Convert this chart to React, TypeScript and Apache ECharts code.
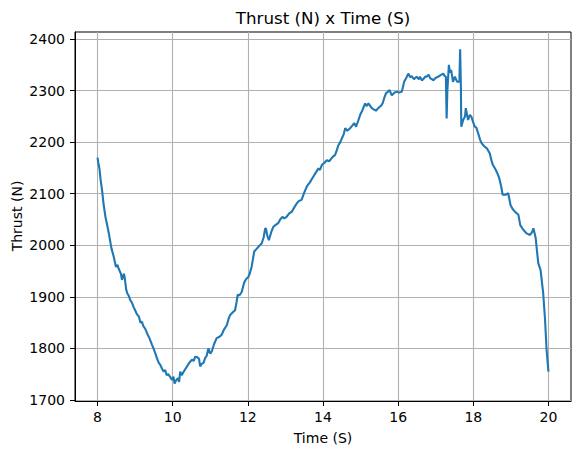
import React, { useEffect, useRef } from "react";
import * as echarts from "echarts";

const time: number[] = [
  8.0, 8.02, 8.05, 8.08, 8.12, 8.16, 8.21, 8.26, 8.3, 8.37, 8.43, 8.49, 8.53, 8.56, 8.62, 8.65, 8.7, 8.72, 8.76, 8.79,
  8.83, 8.87, 8.92, 8.96, 9.0, 9.05, 9.1, 9.14, 9.18, 9.22, 9.27, 9.32, 9.38, 9.45, 9.5, 9.55, 9.58, 9.63, 9.67, 9.72,
  9.76, 9.8, 9.84, 9.88, 9.93, 9.98, 10.02, 10.05, 10.09, 10.14, 10.17, 10.2, 10.24, 10.27, 10.32, 10.38, 10.44, 10.51,
  10.56, 10.6, 10.65, 10.7, 10.73, 10.77, 10.82, 10.86, 10.9, 10.95, 11.0, 11.04, 11.1, 11.17, 11.23, 11.3, 11.36, 11.44,
  11.49, 11.53, 11.6, 11.66, 11.7, 11.73, 11.78, 11.84, 11.88, 11.91, 11.96, 12.01, 12.05, 12.1, 12.14, 12.17, 12.22,
  12.28, 12.32, 12.37, 12.42, 12.46, 12.48, 12.52, 12.56, 12.62, 12.68, 12.75, 12.81, 12.86, 12.92, 12.97, 13.03, 13.1,
  13.17, 13.24, 13.3, 13.36, 13.43, 13.5, 13.57, 13.65, 13.74, 13.8, 13.88, 13.92, 13.97, 14.04, 14.1, 14.17, 14.23,
  14.28, 14.32, 14.37, 14.41, 14.46, 14.5, 14.55, 14.59, 14.65, 14.72, 14.78, 14.83, 14.88, 14.94, 14.99, 15.05, 15.12,
  15.16, 15.21, 15.26, 15.3, 15.36, 15.41, 15.47, 15.52, 15.56, 15.59, 15.64, 15.68, 15.73, 15.77, 15.83, 15.9, 15.96,
  16.03, 16.1, 16.16, 16.22, 16.27, 16.32, 16.36, 16.42, 16.49, 16.55, 16.58, 16.63, 16.67, 16.72, 16.76, 16.81, 16.85,
  16.9, 16.94, 17.0, 17.07, 17.13, 17.2, 17.24, 17.27, 17.29, 17.31, 17.35, 17.38, 17.41, 17.46, 17.51, 17.57, 17.63,
  17.65, 17.67, 17.68, 17.73, 17.78, 17.8, 17.86, 17.91, 17.95, 18.0, 18.04, 18.08, 18.13, 18.18, 18.22, 18.29, 18.36,
  18.44, 18.48, 18.52, 18.6, 18.65, 18.69, 18.74, 18.78, 18.87, 18.93, 18.99, 19.05, 19.11, 19.2, 19.25, 19.33, 19.42,
  19.51, 19.56, 19.6, 19.66, 19.7, 19.73, 19.79, 19.86, 19.91, 19.95, 20.0,
];

const thrust: number[] = [
  2170, 2160, 2149, 2128, 2107, 2080, 2055, 2038, 2023, 1994, 1978, 1958, 1962, 1955, 1945, 1933, 1945, 1939, 1915, 1907,
  1902, 1894, 1888, 1880, 1874, 1866, 1862, 1850, 1852, 1843, 1838, 1829, 1820, 1807, 1798, 1788, 1781, 1772, 1768, 1760,
  1755, 1758, 1748, 1750, 1745, 1739, 1745, 1732, 1738, 1742, 1735, 1755, 1748, 1752, 1758, 1765, 1772, 1778,
  1776, 1784, 1783, 1780, 1765, 1770, 1772, 1781, 1785, 1800, 1790, 1794, 1808, 1820, 1822, 1826, 1836, 1845,
  1858, 1865, 1870, 1874, 1890, 1904, 1903, 1910, 1922, 1929, 1935, 1938, 1945, 1958, 1975, 1988, 1992,
  1997, 2000, 2004, 2015, 2032, 2033, 2018, 2010, 2025, 2036, 2040, 2043, 2050, 2055, 2052, 2055, 2062,
  2065, 2074, 2081, 2086, 2088, 2102, 2114, 2122, 2133, 2140, 2149, 2146, 2156, 2160, 2165, 2163, 2169,
  2173, 2175, 2185, 2194, 2200, 2207, 2215, 2227, 2222, 2227, 2232, 2237, 2230, 2242, 2253, 2262, 2275,
  2270, 2275, 2270, 2266, 2263, 2261, 2266, 2269, 2272, 2276, 2288, 2295, 2298, 2301, 2291, 2296, 2298,
  2296, 2298, 2317, 2325, 2333, 2326, 2328, 2322, 2327, 2322, 2327, 2320, 2322, 2327, 2327, 2331, 2324,
  2322, 2320, 2325, 2327, 2330, 2333, 2328, 2327, 2246, 2300, 2350, 2335, 2340, 2317, 2327, 2317, 2317,
  2380, 2305, 2230, 2243, 2250, 2266, 2243, 2253, 2249, 2238, 2230, 2228, 2217, 2205, 2198, 2192, 2188,
  2178, 2165, 2156, 2146, 2138, 2130, 2115, 2098, 2098, 2101, 2078, 2070, 2065, 2059, 2039, 2030, 2023,
  2020, 2025, 2033, 2014, 1985, 1965, 1952, 1907, 1855, 1797, 1755,
];

const xTicks: number[] = [8, 10, 12, 14, 16, 18, 20];
const yTicks: number[] = [1700, 1800, 1900, 2000, 2100, 2200, 2300, 2400];

const chartTitle = "Thrust (N) x Time (S)";
const xName = "Time (S)";
const yName = "Thrust (N)";

export default function App() {
  const ref = useRef<HTMLDivElement>(null);
  useEffect(() => {
    if (!ref.current) return;
    const chart = echarts.init(ref.current, null, { renderer: "svg" });
    const font = "DejaVu Sans";
    const data = time.map((t, i) => [t, thrust[i]]);
    chart.setOption({
      animation: false,
      backgroundColor: "#ffffff",
      textStyle: { fontFamily: font },
      grid: {
        left: 75,
        right: 9,
        top: 32,
        bottom: 54,
        show: true,
        borderColor: "#000000",
        borderWidth: 1,
        backgroundColor: "transparent",
      },
      xAxis: {
        type: "value",
        min: 7.4,
        max: 20.6,
        minInterval: 2,
        maxInterval: 2,
        axisLine: { show: true, lineStyle: { color: "#000", width: 1 } },
        axisTick: { show: true, length: 5, lineStyle: { color: "#000", width: 1 }, customValues: xTicks },
        axisLabel: {
          show: true,
          margin: 9,
          color: "#000",
          fontSize: 14,
          fontFamily: font,
          customValues: xTicks,
          formatter: (v: number) => String(v),
        },
        splitLine: { show: true, lineStyle: { color: "#b0b0b0", width: 1.1 } },
      },
      yAxis: {
        type: "value",
        min: 1698,
        max: 2413.6,
        minInterval: 100,
        maxInterval: 100,
        axisLine: { show: true, lineStyle: { color: "#000", width: 1 } },
        axisTick: { show: true, length: 5, lineStyle: { color: "#000", width: 1 }, customValues: yTicks },
        axisLabel: {
          show: true,
          margin: 10,
          color: "#000",
          fontSize: 14,
          fontFamily: font,
          customValues: yTicks,
          formatter: (v: number) => String(v),
        },
        splitLine: { show: true, lineStyle: { color: "#b0b0b0", width: 1.1 } },
      },
      graphic: [
        {
          type: "text",
          x: 323,
          y: 18,
          style: {
            text: chartTitle,
            fontSize: 16.7,
            fontFamily: font,
            fill: "#000",
            textAlign: "center",
            textVerticalAlign: "middle",
          },
        },
        {
          type: "text",
          x: 323,
          y: 438,
          style: {
            text: xName,
            fontSize: 14,
            fontFamily: font,
            fill: "#000",
            textAlign: "center",
            textVerticalAlign: "middle",
          },
        },
        {
          type: "text",
          x: 17,
          y: 216,
          rotation: Math.PI / 2,
          style: {
            text: yName,
            fontSize: 14,
            fontFamily: font,
            fill: "#000",
            textAlign: "center",
            textVerticalAlign: "middle",
          },
        },
      ],
      series: [
        {
          type: "line",
          data,
          showSymbol: false,
          symbol: "none",
          lineStyle: { color: "#1f77b4", width: 2.1 },
          itemStyle: { color: "#1f77b4" },
        },
      ],
    });
    return () => chart.dispose();
  }, []);
  return (
    <div
      ref={ref}
      style={{ position: "fixed", left: 0, top: 0, width: 580, height: 455 }}
    />
  );
}
